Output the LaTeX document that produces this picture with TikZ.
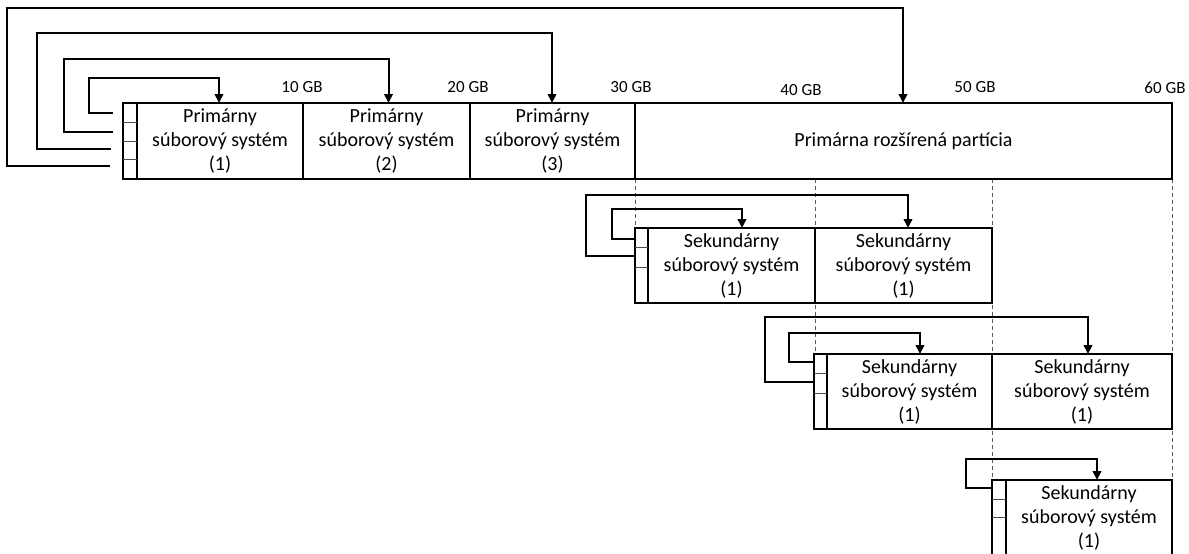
\documentclass[tikz,border=0pt]{standalone}
\usepackage{fontspec}
\setmainfont{Carlito}
\usetikzlibrary{arrows.meta}
\begin{document}
\begin{tikzpicture}[x=1pt,y=-1pt,
  box/.style 2 args={draw, line width=2pt, inner sep=0pt, outer sep=0pt,
    anchor=north west, align=center, minimum width=#1pt, minimum height=#2pt,
    font=\fontsize{20}{24}\selectfont, text=black},
  conn/.style={line width=2pt, line join=miter},
  link/.style={conn, -{Triangle[length=9pt,width=8.5pt]}},
  slot/.style={line width=0.9pt, black!70},
  guide/.style={line width=0.8pt, black!65, dash pattern=on 4pt off 3pt},
  gb/.style={font=\fontsize{17}{20}\selectfont, anchor=base, text=black}
]
\useasboundingbox (0,0) rectangle (1189,554);

% partition table of the disk
\node[box={14}{76}]  (mcol) at (123,103) {};
\node[box={166}{76}] (p1)   at (137,103) {Primárny\\súborový systém\\(1)};
\node[box={167}{76}] (p2)   at (303,103) {Primárny\\súborový systém\\(2)};
\node[box={165}{76}] (p3)   at (470,103) {Primárny\\súborový systém\\(3)};

% guides from the size marks down to the logical partitions
\coordinate (g60) at (1172,556);
\draw[guide] (635,179) -- (635,228);
\draw[guide] (815,179) -- (815,354);
\draw[guide] (992,179) -- (992,480);
\draw[guide] (1172,179) -- (g60);

\node[box={537}{76}] (ext)  at (635,103) {Primárna rozšírená partícia};
\foreach \y in {122,141,159} \draw[slot] (123,\y) -- (137,\y);

% size marks
\node[gb] (l10) at (302,92) {10 GB};
\node[gb] (l20) at (468,92) {20 GB};
\node[gb] (l30) at (631,92) {30 GB};
\node[gb] (l40) at (801,95) {40 GB};
\node[gb] (l50) at (975,92) {50 GB};
\node[gb] (l60) at (1165,93) {60 GB};

% first logical level
\node[box={13}{75}]  (s1col) at (635,228) {};
\node[box={167}{75}] (s1a)   at (648,228) {Sekundárny\\súborový systém\\(1)};
\node[box={177}{75}] (s1b)   at (815,228) {Sekundárny\\súborový systém\\(1)};
\foreach \y in {247,267} \draw[slot] (635,\y) -- (648,\y);

% second logical level
\node[box={13}{75}]  (s2col) at (814,354) {};
\node[box={165}{75}] (s2a)   at (827,354) {Sekundárny\\súborový systém\\(1)};
\node[box={180}{75}] (s2b)   at (992,354) {Sekundárny\\súborový systém\\(1)};
\foreach \y in {373,393} \draw[slot] (814,\y) -- (827,\y);

% third logical level
\node[box={14}{76}]  (s3col) at (992,480) {};
\node[box={166}{76}] (s3a)   at (1006,480) {Sekundárny\\súborový systém\\(1)};
\foreach \y in {499,517} \draw[slot] (992,\y) -- (1006,\y);

% entry pointers of the partition table
\coordinate (m1) at (113,113);
\coordinate (m2) at (113,132);
\coordinate (m3) at (111,149);
\coordinate (m4) at (110,166);
\draw[link] (m1) -- (89,113) -- (89,78) -| ([xshift=-1pt]p1.north);
\draw[link] (m2) -- (64,132) -- (64,59) -| ([xshift=2pt]p2.north);
\draw[link] (m3) -- (37,149) -- (37,33) -| ([xshift=-0.5pt]p3.north);
\draw[link] (m4) -- (7,166) -- (7,8) -| ([xshift=-0.5pt]ext.north);

\coordinate (a1) at (635,239);
\coordinate (a2) at (635,256);
\draw[link] (a1) -- (612,239) -- (612,209) -| ([xshift=10.5pt]s1a.north);
\draw[link] (a2) -- (586,256) -- (586,195) -| ([xshift=4.5pt]s1b.north);

\coordinate (b1) at (814,362);
\coordinate (b2) at (814,382);
\draw[link] (b1) -- (789,362) -- (789,333) -| ([xshift=10.5pt]s2a.north);
\draw[link] (b2) -- (765,382) -- (765,317) -| ([xshift=6pt]s2b.north);

\coordinate (c1) at (992,488);
\draw[link] (c1) -- (966,488) -- (966,459) -| ([xshift=8pt]s3a.north);
\end{tikzpicture}
\end{document}
